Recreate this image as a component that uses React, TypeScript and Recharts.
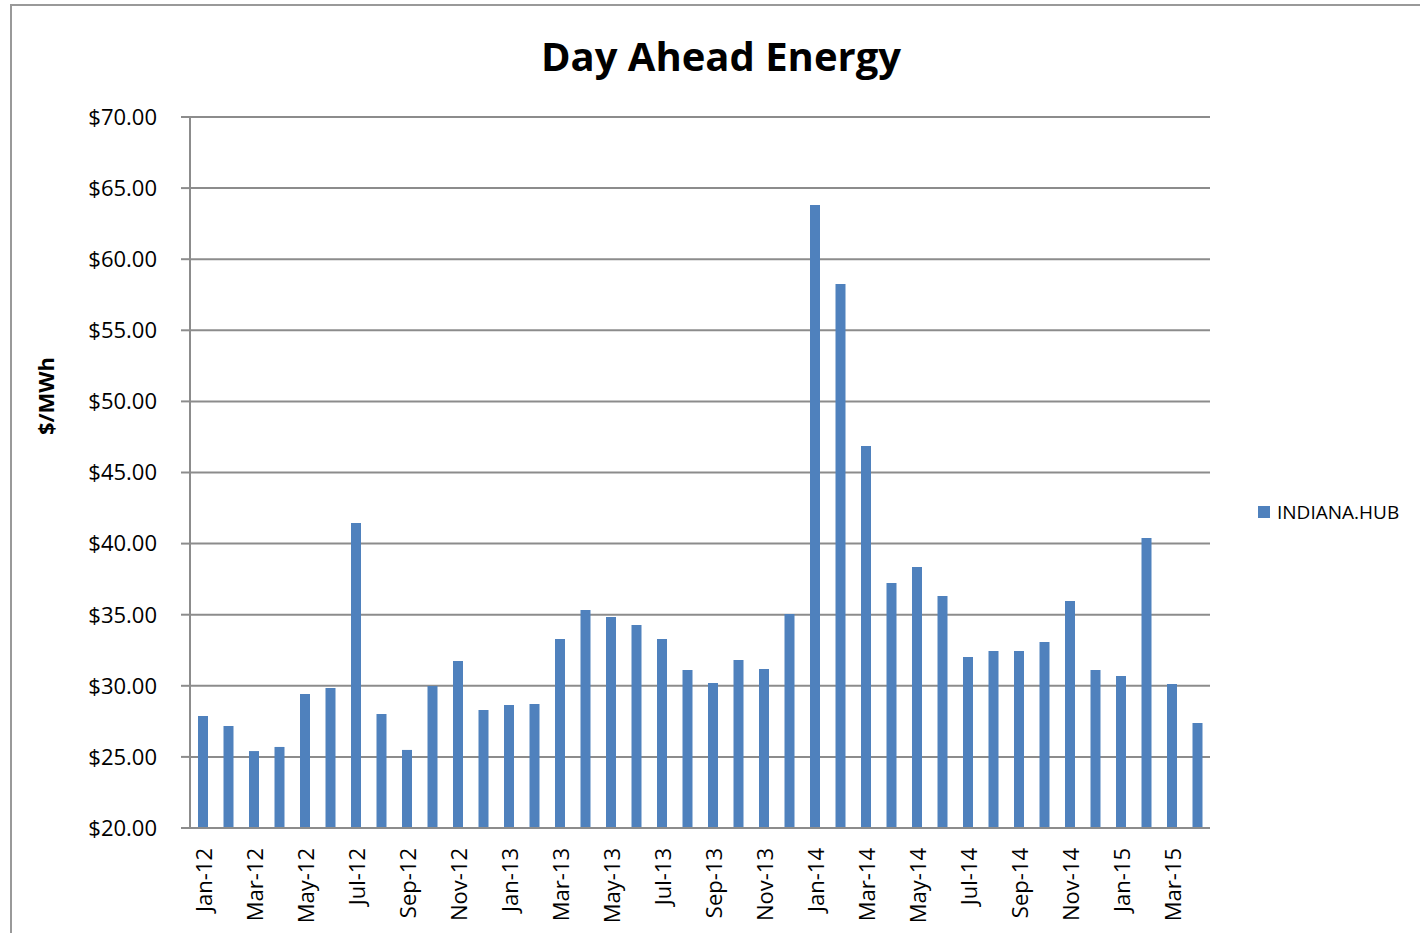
import * as React from "react"
import { BarChart, Bar, XAxis, YAxis, CartesianGrid, Legend } from "recharts"

const months = [
  "Jan-12", "Feb-12", "Mar-12", "Apr-12", "May-12", "Jun-12", "Jul-12", "Aug-12", "Sep-12", "Oct-12", "Nov-12", "Dec-12",
  "Jan-13", "Feb-13", "Mar-13", "Apr-13", "May-13", "Jun-13", "Jul-13", "Aug-13", "Sep-13", "Oct-13", "Nov-13", "Dec-13",
  "Jan-14", "Feb-14", "Mar-14", "Apr-14", "May-14", "Jun-14", "Jul-14", "Aug-14", "Sep-14", "Oct-14", "Nov-14", "Dec-14",
  "Jan-15", "Feb-15", "Mar-15", "Apr-15",
]

const indianaHub = [
  27.88, 27.17, 25.41, 25.7, 29.42, 29.85, 41.45, 28.02, 25.49, 29.99, 31.74, 28.3,
  28.65, 28.72, 33.29, 35.33, 34.84, 34.28, 33.29, 31.11, 30.2, 31.81, 31.18, 35.05,
  63.81, 58.26, 46.86, 37.23, 38.35, 36.31, 32.03, 32.45, 32.45, 33.08, 35.96, 31.11,
  30.69, 40.39, 30.13, 27.38,
]

const yTicks = [20, 25, 30, 35, 40, 45, 50, 55, 60, 65, 70]

const data = months.map((m, i) => ({ month: m, "INDIANA.HUB": indianaHub[i] }))

const FONT = "'Open Sans', 'Noto Sans', sans-serif"
const GRID = "#8c8c8c"

const XTick = ({ x, y, payload }: any) => (
  <text
    x={x}
    y={y}
    transform={`rotate(-90, ${x}, ${y})`}
    textAnchor="end"
    dominantBaseline="central"
    fontSize={22}
    fontFamily={FONT}
    fill="#000"
  >
    {payload.value}
  </text>
)

const YLabel = () => (
  <text
    x={45}
    y={396}
    transform="rotate(-90, 45, 396)"
    textAnchor="middle"
    dominantBaseline="central"
    fontSize={22}
    fontWeight={700}
    fontFamily={FONT}
    fill="#000"
  >
    $/MWh
  </text>
)

const LegendContent = () => (
  <div style={{ display: "flex", alignItems: "center", fontFamily: FONT, fontSize: 19, color: "#000" }}>
    <span style={{ width: 12, height: 12, background: "#4F81BD", display: "inline-block", marginRight: 7 }} />
    INDIANA.HUB
  </div>
)

export default function App() {
  return (
    <div style={{ position: "absolute", left: 0, top: 0, width: 1420, height: 933, overflow: "hidden", background: "#fff" }}>
      <div
        style={{
          position: "absolute",
          left: 10,
          top: 4,
          width: 1440,
          height: 960,
          border: "2px solid #999",
          boxSizing: "border-box",
        }}
      />
      <div
        style={{
          position: "absolute",
          left: 0,
          top: 28,
          width: 1442,
          textAlign: "center",
          fontFamily: FONT,
          fontWeight: 700,
          fontSize: 40,
          color: "#000",
        }}
      >
        Day Ahead Energy
      </div>
      <div style={{ position: "absolute", left: 0, top: 0 }}>
        <BarChart
          width={1420}
          height={933}
          data={data}
          margin={{ top: 117, right: 50, bottom: 5, left: 110 }}
          barSize={10}
        >
          <CartesianGrid vertical={false} stroke={GRID} strokeWidth={2} />
          <XAxis
            dataKey="month"
            interval={1}
            height={100}
            tick={<XTick />}
            tickLine={false}
            axisLine={{ stroke: GRID, strokeWidth: 2 }}
            tickMargin={14}
          />
          <YAxis
            domain={[20, 70]}
            ticks={yTicks}
            width={80}
            tickFormatter={(v: number) => `$${v.toFixed(2)}`}
            tick={{ fontSize: 22, fontFamily: FONT, fill: "#000" }}
            tickLine={{ stroke: GRID, strokeWidth: 2 }}
            tickSize={9}
            tickMargin={24}
            axisLine={{ stroke: GRID, strokeWidth: 2 }}
            label={<YLabel />}
          />
          <Legend
            layout="vertical"
            align="right"
            verticalAlign="top"
            content={<LegendContent />}
            wrapperStyle={{ position: "absolute", left: 1258, top: 499, width: 160 }}
          />
          <Bar dataKey="INDIANA.HUB" fill="#4F81BD" isAnimationActive={false} />
        </BarChart>
      </div>
    </div>
  )
}
